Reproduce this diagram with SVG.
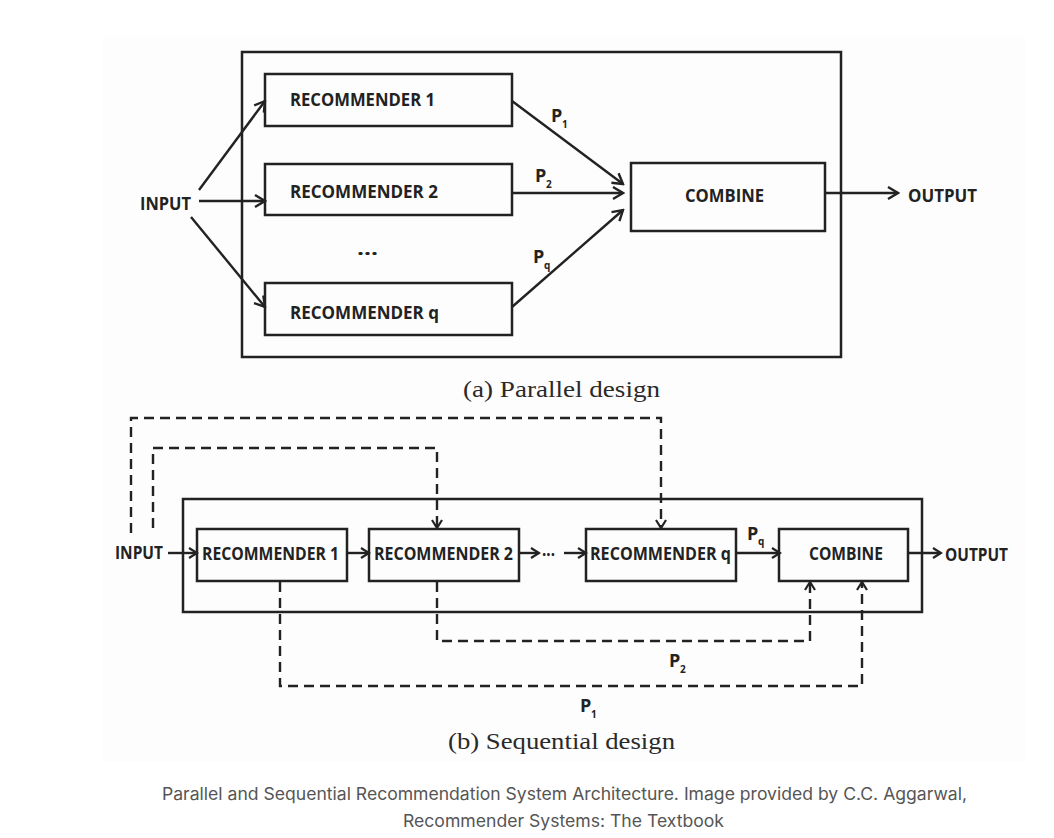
<svg xmlns="http://www.w3.org/2000/svg" width="1054" height="838" viewBox="0 0 1054 838">
<style>
.box{fill:none;stroke:#222;stroke-width:2.5}
.ln{fill:none;stroke:#222;stroke-width:2.4}
.ds{fill:none;stroke:#222;stroke-width:2.4;stroke-dasharray:10 6}
.lb{font-family:"Open Sans","Liberation Sans",sans-serif;font-weight:bold;font-size:17px;fill:#222}
.p{font-family:"Open Sans","Liberation Sans",sans-serif;font-weight:bold;font-size:18px;fill:#222}
.sub{font-family:"Open Sans","Liberation Sans",sans-serif;font-weight:bold;font-size:10px;fill:#222}
.cap{font-family:"Liberation Serif","DejaVu Serif",serif;font-size:24px;fill:#2a2a2a}
.note{font-family:Inter,"Liberation Sans",sans-serif;font-size:17px;fill:#555}
</style>
<defs>
<marker id="ah" markerUnits="userSpaceOnUse" markerWidth="14" markerHeight="16" viewBox="0 0 14 16" refX="12" refY="8" orient="auto">
<path d="M2,2 L12,8 L2,14" fill="none" stroke="#222" stroke-width="2.4"/>
</marker>
<marker id="as" markerUnits="userSpaceOnUse" markerWidth="12" markerHeight="14" viewBox="0 0 12 14" refX="10" refY="7" orient="auto">
<path d="M2,2 L10,7 L2,12" fill="none" stroke="#222" stroke-width="2.2"/>
</marker>
</defs>
<rect x="0" y="0" width="1054" height="838" fill="#ffffff"/>
<rect x="103" y="35" width="922" height="727" fill="#fdfdfd"/>

<!-- (a) Parallel design -->
<g id="a-frame"><rect class="box" x="242" y="52" width="599" height="305"/></g>
<g id="a-input"><text class="lb" x="140" y="210" textLength="51" lengthAdjust="spacingAndGlyphs">INPUT</text></g>
<g id="a-rec1"><rect class="box" x="265" y="74" width="247" height="52"/><text class="lb" x="290" y="106" textLength="145" lengthAdjust="spacingAndGlyphs">RECOMMENDER 1</text></g>
<g id="a-rec2"><rect class="box" x="265" y="164" width="247" height="51"/><text class="lb" x="290" y="197.5" textLength="148" lengthAdjust="spacingAndGlyphs">RECOMMENDER 2</text></g>
<g id="a-dots"><text class="lb" x="357" y="255" textLength="21" lengthAdjust="spacingAndGlyphs">...</text></g>
<g id="a-recq"><rect class="box" x="265" y="283" width="247" height="52"/><text class="lb" x="290" y="319" textLength="149" lengthAdjust="spacingAndGlyphs">RECOMMENDER q</text></g>
<g id="a-combine"><rect class="box" x="631" y="163" width="194" height="68"/><text class="lb" x="685" y="202" textLength="79" lengthAdjust="spacingAndGlyphs">COMBINE</text></g>
<g id="a-output"><text class="lb" x="908" y="202" textLength="69" lengthAdjust="spacingAndGlyphs">OUTPUT</text></g>
<g id="a-connectors">
<path class="ln" d="M199,190 L265,101" marker-end="url(#ah)"/>
<path class="ln" d="M199,201 L265,201" marker-end="url(#ah)"/>
<path class="ln" d="M191,217 L265,307" marker-end="url(#ah)"/>
<path class="ln" d="M512,101 L623,184" marker-end="url(#ah)"/>
<path class="ln" d="M512,193 L623,193" marker-end="url(#ah)"/>
<path class="ln" d="M512,307 L623,210" marker-end="url(#ah)"/>
<path class="ln" d="M825,193 L898,193" marker-end="url(#ah)"/>
</g>
<g id="a-labels">
<text class="p" x="551" y="122">P</text><text class="sub" x="562" y="128">1</text>
<text class="p" x="535" y="182">P</text><text class="sub" x="546" y="188">2</text>
<text class="p" x="533" y="263">P</text><text class="sub" x="544" y="269">q</text>
</g>
<g id="a-caption"><text class="cap" x="463" y="397" textLength="197" lengthAdjust="spacingAndGlyphs">(a) Parallel design</text></g>

<!-- (b) Sequential design -->
<g id="b-frame"><rect class="box" x="183" y="499" width="739" height="113"/></g>
<g id="b-input"><text class="lb" x="115" y="559" textLength="48" lengthAdjust="spacingAndGlyphs">INPUT</text></g>
<g id="b-rec1"><rect class="box" x="197" y="529" width="150" height="52"/><text class="lb" x="202" y="559.5" textLength="137" lengthAdjust="spacingAndGlyphs">RECOMMENDER 1</text></g>
<g id="b-rec2"><rect class="box" x="369" y="529" width="150" height="52"/><text class="lb" x="374" y="559.5" textLength="139" lengthAdjust="spacingAndGlyphs">RECOMMENDER 2</text></g>
<g id="b-dots"><text class="lb" x="542" y="556" textLength="13" lengthAdjust="spacingAndGlyphs">...</text></g>
<g id="b-recq"><rect class="box" x="586" y="529" width="150" height="52"/><text class="lb" x="590" y="559.5" textLength="141" lengthAdjust="spacingAndGlyphs">RECOMMENDER q</text></g>
<g id="b-combine"><rect class="box" x="779" y="529" width="129" height="52"/><text class="lb" x="809" y="559.5" textLength="74" lengthAdjust="spacingAndGlyphs">COMBINE</text></g>
<g id="b-output"><text class="lb" x="945" y="560.5" textLength="63" lengthAdjust="spacingAndGlyphs">OUTPUT</text></g>
<g id="b-connectors">
<path class="ln" d="M168,553 L197,553" marker-end="url(#as)"/>
<path class="ln" d="M347,553 L369,553" marker-end="url(#as)"/>
<path class="ln" d="M519,553 L539,553" marker-end="url(#as)"/>
<path class="ln" d="M564,553 L586,553" marker-end="url(#as)"/>
<path class="ln" d="M736,553 L780,553" marker-end="url(#as)"/>
<path class="ln" d="M908,553 L941,553" marker-end="url(#as)"/>
<path class="ds" d="M131,533 L131,418 L661,418 L661,528" marker-end="url(#as)"/>
<path class="ds" d="M153,528 L153,448 L437,448 L437,528" marker-end="url(#as)"/>
<path class="ds" d="M280,582 L280,686 L862,686 L862,582" marker-end="url(#as)"/>
<path class="ds" d="M437,582 L437,641 L810,641 L810,582" marker-end="url(#as)"/>
</g>
<g id="b-labels">
<text class="p" x="747" y="539.5">P</text><text class="sub" x="758" y="545">q</text>
<text class="p" x="669" y="667">P</text><text class="sub" x="680" y="673">2</text>
<text class="p" x="580" y="712">P</text><text class="sub" x="591" y="718">1</text>
</g>
<g id="b-caption"><text class="cap" x="448" y="749" textLength="227" lengthAdjust="spacingAndGlyphs">(b) Sequential design</text></g>

<g id="figure-caption">
<text class="note" x="162" y="800" textLength="805" lengthAdjust="spacingAndGlyphs">Parallel and Sequential Recommendation System Architecture. Image provided by C.C. Aggarwal,</text>
<text class="note" x="403" y="827" textLength="321" lengthAdjust="spacingAndGlyphs">Recommender Systems: The Textbook</text>
</g>
</svg>
